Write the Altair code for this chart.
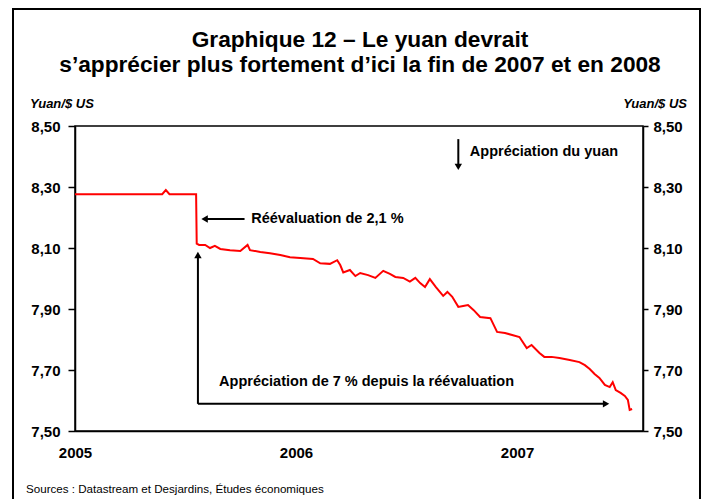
import altair as alt
import pandas as pd

# ---------------- data ----------------
dates = ["2005-01-01", "2005-05-25", "2005-05-31", "2005-06-06", "2005-07-20", "2005-07-21",
         "2005-07-25", "2005-08-04", "2005-08-12", "2005-08-20", "2005-08-29", "2005-09-14",
         "2005-10-01", "2005-10-13", "2005-10-17", "2005-11-03", "2005-11-19", "2005-12-06",
         "2005-12-22", "2006-01-08", "2006-01-29", "2006-02-10", "2006-02-26", "2006-03-10",
         "2006-03-15", "2006-03-20", "2006-03-31", "2006-04-09", "2006-04-17", "2006-04-30",
         "2006-05-12", "2006-05-25", "2006-06-05", "2006-06-14", "2006-06-27", "2006-07-08",
         "2006-07-17", "2006-07-25", "2006-08-02", "2006-08-10", "2006-08-20", "2006-09-01",
         "2006-09-08", "2006-09-16", "2006-09-26", "2006-10-04", "2006-10-12", "2006-10-21",
         "2006-11-01", "2006-11-18", "2006-11-29", "2006-12-12", "2006-12-24", "2007-01-05",
         "2007-01-17", "2007-01-25", "2007-02-07", "2007-02-15", "2007-02-27", "2007-03-12",
         "2007-03-29", "2007-04-14", "2007-04-23", "2007-05-01", "2007-05-09", "2007-05-17",
         "2007-05-26", "2007-06-03", "2007-06-08", "2007-06-13", "2007-06-21", "2007-06-28",
         "2007-07-03", "2007-07-06", "2007-07-10"]
rates = [8.2765, 8.2765, 8.29, 8.2765, 8.2765, 8.114,
         8.11, 8.11, 8.10, 8.107, 8.097, 8.093,
         8.09, 8.11, 8.093, 8.087, 8.083, 8.077,
         8.07, 8.067, 8.064, 8.05, 8.048, 8.06,
         8.044, 8.02, 8.028, 8.008, 8.018, 8.011,
         8.002, 8.025, 8.015, 8.005, 8.002, 7.99,
         8.002, 7.985, 7.972, 7.998, 7.972, 7.943,
         7.956, 7.94, 7.907, 7.91, 7.913, 7.897,
         7.874, 7.87, 7.825, 7.821, 7.815, 7.808,
         7.772, 7.782, 7.756, 7.743, 7.743, 7.739,
         7.733, 7.726, 7.716, 7.703, 7.687, 7.674,
         7.651, 7.644, 7.66, 7.634, 7.625, 7.615,
         7.602, 7.569, 7.572]
year_ticks = [2005, 2006, 2007]
y_ticks = [7.5, 7.7, 7.9, 8.1, 8.3, 8.5]

title_lines = ["Graphique 12 – Le yuan devrait",
               "s’apprécier plus fortement d’ici la fin de 2007 et en 2008"]
unit_label = "Yuan/$ US"
source_text = "Sources : Datastream et Desjardins, Études économiques"

# annotations (in data coordinates)
ann_rule_from = ["2005-08-04", "2005-07-23", "2005-07-23", "2006-09-26"]
ann_rule_to = ["2005-10-08", "2005-07-23", "2007-05-27", "2006-09-26"]
ann_rule_v1 = [8.195, 7.589, 7.589, 8.457]
ann_rule_v2 = [8.195, 8.07, 7.589, 8.37]
ann_head_date = ["2005-08-03", "2005-07-23", "2007-05-28", "2006-09-26"]
ann_head_v = [8.195, 8.077, 7.589, 8.366]
ann_head_shape = ["triangle-left", "triangle-up", "triangle-right", "triangle-down"]
ann_text_date = ["2005-10-19", "2005-08-27", "2006-10-15"]
ann_text_v = [8.195, 7.661, 8.415]
ann_text = ["Réévaluation de 2,1 %", "Appréciation de 7 % depuis la réévaluation",
            "Appréciation du yuan"]

# ---------------- chart ----------------
FONT = "Liberation Sans"
W, H = 568, 305

df = pd.DataFrame({"date": dates, "rate": rates})

x_scale = alt.Scale(type="utc", domain=[alt.DateTime(year=2005, month=1, date=1, utc=True),
                                        alt.DateTime(year=2007, month=7, date=28, utc=True)])
y_scale = alt.Scale(domain=[7.5, 8.5], nice=False, zero=False)

label_expr_y = "replace(format(datum.value, '.2f'), '.', ',')"

x_axis = alt.Axis(values=[alt.DateTime(year=y, month=1, date=1, utc=True) for y in year_ticks],
                  labelExpr="utcFormat(datum.value, '%Y')", ticks=False, grid=False,
                  labelPadding=14, labelFont=FONT, labelFontSize=15, labelFontWeight="bold",
                  labelColor="black", domainColor="black", domainWidth=1.5, title=None,
                  labelFlush=False)
left_axis = alt.Axis(orient="left", values=y_ticks, labelExpr=label_expr_y, tickSize=7,
                     tickColor="black", tickWidth=1.5, labelPadding=8, labelFont=FONT,
                     labelFontSize=15, labelFontWeight="bold", labelColor="black",
                     domainColor="black", domainWidth=1.5, grid=False, title=None)
right_axis = alt.Axis(orient="right", values=y_ticks, labelExpr=label_expr_y, tickSize=5,
                      tickColor="black", tickWidth=1.5, labelPadding=5, labelFont=FONT,
                      labelFontSize=15, labelFontWeight="bold", labelColor="black",
                      domainColor="black", domainWidth=1.5, grid=False, title=None)


def X(field):
    return alt.X(field, scale=x_scale, axis=x_axis)


line = alt.Chart(df).mark_line(color="#FF0000", strokeWidth=2).encode(
    x=X("date:T"),
    y=alt.Y("rate:Q", scale=y_scale, axis=left_axis),
)
right = alt.Chart(df).mark_line(opacity=0).encode(
    x=X("date:T"),
    y=alt.Y("rate:Q", scale=y_scale, axis=right_axis),
)

rules_df = pd.DataFrame({"d1": ann_rule_from, "d2": ann_rule_to, "v1": ann_rule_v1, "v2": ann_rule_v2})
rules = alt.Chart(rules_df).mark_rule(color="black", strokeWidth=2).encode(
    x=X("d1:T"), x2="d2:T",
    y=alt.Y("v1:Q", scale=y_scale, axis=None), y2="v2:Q",
)
heads_df = pd.DataFrame({"d": ann_head_date, "v": ann_head_v, "shape": ann_head_shape})
heads = alt.Chart(heads_df).mark_point(filled=True, color="black", size=55, opacity=1).encode(
    x=X("d:T"),
    y=alt.Y("v:Q", scale=y_scale, axis=None),
    shape=alt.Shape("shape:N", scale=None),
)
texts_df = pd.DataFrame({"d": ann_text_date, "v": ann_text_v, "label": ann_text})
texts = alt.Chart(texts_df).mark_text(align="left", baseline="middle", font=FONT, fontSize=14.5,
                                      fontWeight="bold", color="black").encode(
    x=X("d:T"),
    y=alt.Y("v:Q", scale=y_scale, axis=None),
    text="label:N",
)

one = pd.DataFrame({"k": [0]})
frame = alt.Chart(one).mark_rect(fillOpacity=0, stroke="black", strokeWidth=2).encode(
    x=alt.value(-62), x2=alt.value(625), y=alt.value(-117), y2=alt.value(385))
t1 = alt.Chart(one).mark_text(text=title_lines[0], font=FONT, fontSize=22.7, fontWeight="bold",
                              align="center", baseline="alphabetic", color="black").encode(
    x=alt.value(285), y=alt.value(-79))
t2 = alt.Chart(one).mark_text(text=title_lines[1], font=FONT, fontSize=22.7, fontWeight="bold",
                              align="center", baseline="alphabetic", color="black").encode(
    x=alt.value(285), y=alt.value(-54))
u1 = alt.Chart(one).mark_text(text=unit_label, font=FONT, fontSize=13, fontWeight="bold",
                              fontStyle="italic", align="left", baseline="alphabetic",
                              color="black").encode(x=alt.value(-45), y=alt.value(-18))
u2 = alt.Chart(one).mark_text(text=unit_label, font=FONT, fontSize=13, fontWeight="bold",
                              fontStyle="italic", align="right", baseline="alphabetic",
                              color="black").encode(x=alt.value(612), y=alt.value(-18))
src = alt.Chart(one).mark_text(text=source_text, font=FONT, fontSize=11.6, align="left",
                               baseline="alphabetic", color="black").encode(
    x=alt.value(-49), y=alt.value(367))

chart = alt.layer(frame, line, right, rules, heads, texts, t1, t2, u1, u2, src).resolve_scale(
    y="independent"
).properties(
    width=W, height=H,
    padding={"left": 67, "top": 118, "right": 58, "bottom": 68},
    autosize=alt.AutoSizeParams(type="none"),
    background="white",
).configure_view(stroke="black", strokeWidth=1.5)

chart.save("out.html", embed_options={"renderer": "svg", "actions": False})
